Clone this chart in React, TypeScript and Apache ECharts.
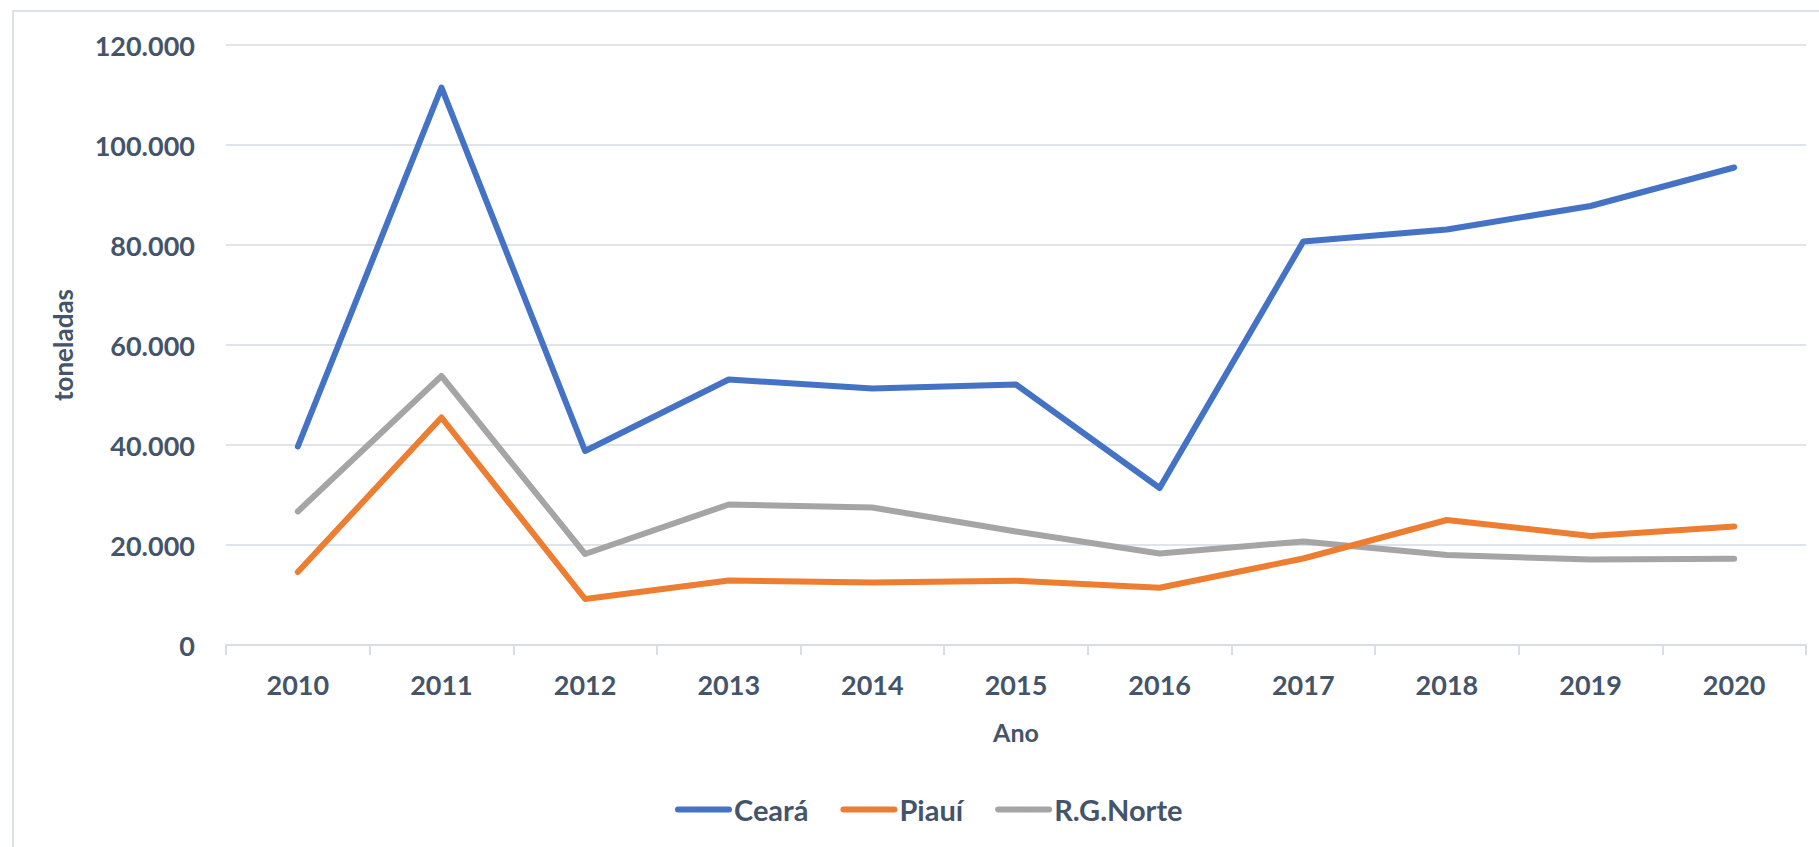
import React, { useEffect, useRef } from "react";
import * as echarts from "echarts";

const years = ["2010", "2011", "2012", "2013", "2014", "2015", "2016", "2017", "2018", "2019", "2020"];
const ceara = [39700, 111500, 38800, 53100, 51300, 52100, 31400, 80700, 83100, 87800, 95500];
const piaui = [14600, 45500, 9200, 12900, 12500, 12850, 11450, 17300, 25000, 21800, 23700];
const rgNorte = [26700, 53800, 18200, 28100, 27500, 22700, 18300, 20700, 18000, 17100, 17250];

const seriesNames = ["Ceará", "Piauí", "R.G.Norte"];
const seriesColors = ["#4472c4", "#ed7d31", "#a5a5a5"];
const yTicks = { min: 0, max: 120000, interval: 20000 };

const TEXT = "#44546a";
const FONT = "Lato";

function fmt(v: number): string {
  return String(Math.round(v)).replace(/\B(?=(\d{3})+(?!\d))/g, ".");
}

export default function App() {
  const ref = useRef<HTMLDivElement>(null);
  useEffect(() => {
    if (!ref.current) return;
    const chart = echarts.init(ref.current, undefined, { renderer: "svg" });
    const data = [ceara, piaui, rgNorte];
    chart.setOption({
      animation: false,
      backgroundColor: "#ffffff",
      textStyle: { fontFamily: FONT },
      graphic: [
        {
          type: "rect",
          shape: { x: 13, y: 11, width: 1900, height: 900 },
          style: { fill: "none", stroke: "#dde2e9", lineWidth: 2 },
          silent: true,
        },
      ],
      grid: { left: 226, right: 13, top: 45, bottom: 202, containLabel: false },
      legend: {
        top: 790,
        left: 670,
        itemWidth: 51,
        itemHeight: 6,
        itemGap: 32,
        lineStyle: { width: 6, cap: "round" },
        textStyle: { color: TEXT, fontSize: 29, fontWeight: "bold", fontFamily: FONT },
        data: seriesNames,
      },
      xAxis: {
        type: "category",
        data: years,
        boundaryGap: true,
        name: "Ano",
        nameLocation: "middle",
        nameGap: 74,
        nameTextStyle: { color: TEXT, fontSize: 25, fontWeight: "bold", fontFamily: FONT },
        axisLine: { show: true, lineStyle: { color: "#d9dde4", width: 2 } },
        axisTick: { show: true, alignWithLabel: false, length: 10, lineStyle: { color: "#d9dde4", width: 2 } },
        axisLabel: { color: TEXT, fontSize: 27, fontWeight: "bold", fontFamily: FONT, margin: 26 },
        splitLine: { show: false },
      },
      yAxis: {
        type: "value",
        min: yTicks.min,
        max: yTicks.max,
        interval: yTicks.interval,
        name: "toneladas",
        nameLocation: "middle",
        nameGap: 150,
        nameTextStyle: { color: TEXT, fontSize: 26, fontWeight: "bold", fontFamily: FONT },
        axisLine: { show: false },
        axisTick: { show: false },
        axisLabel: { color: TEXT, fontSize: 27, fontWeight: "bold", fontFamily: FONT, margin: 31, formatter: (v: number) => fmt(v) },
        splitLine: { show: true, lineStyle: { color: "#dfe3ea", width: 2 } },
      },
      series: seriesNames.map((name, i) => ({
        name,
        type: "line",
        data: data[i],
        showSymbol: false,
        symbol: "none",
        color: seriesColors[i],
        lineStyle: { color: seriesColors[i], width: 6, cap: "round", join: "round" },
        z: 3 - i,
      })),
    });
    return () => chart.dispose();
  }, []);
  return <div ref={ref} style={{ position: "fixed", left: 0, top: 0, width: 1819, height: 847 }} />;
}
